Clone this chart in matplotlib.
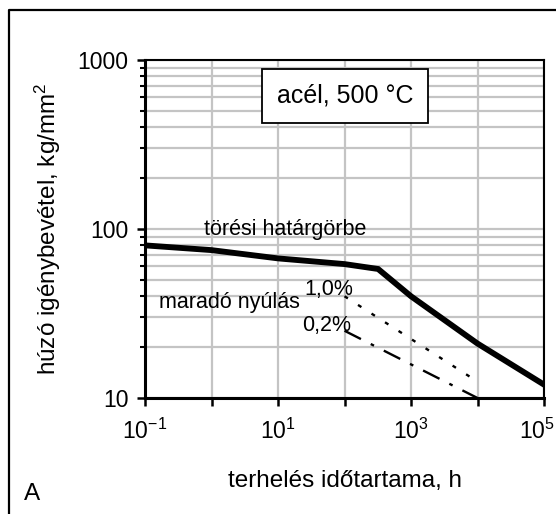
import matplotlib
matplotlib.use("Agg")
import matplotlib.pyplot as plt
from matplotlib.lines import Line2D
from matplotlib.ticker import FixedLocator, NullFormatter
from matplotlib.transforms import ScaledTranslation

plt.rcParams['font.family'] = ['Liberation Sans', 'DejaVu Sans']
plt.rcParams['mathtext.fontset'] = 'custom'
plt.rcParams['mathtext.rm'] = 'Liberation Sans'
plt.rcParams['mathtext.it'] = 'Liberation Sans'
plt.rcParams['mathtext.default'] = 'regular'

# rupture curve (törési határgörbe)
t_break = [0.1, 1, 10, 100, 320, 1000, 1e4, 1e5]
s_break = [80, 75, 67, 62, 58, 40, 21, 12]
# permanent elongation 1,0 %
t_10 = [100, 1e4]
s_10 = [40, 12.5]
# permanent elongation 0,2 %
t_02 = [100, 1e4]
s_02 = [25, 10]

x_ticks = [0.1, 1, 10, 100, 1000, 1e4, 1e5]
x_labels = ['$10^{-1}$', '', '$10^{1}$', '', '$10^{3}$', '', '$10^{5}$']
y_ticks = [10, 100, 1000]
y_labels = ['10', '100', '1000']

fig = plt.figure(figsize=(5.56, 5.14), dpi=100)
ax = fig.add_axes([145/556, 1-398/514, 399/556, 338/514])

ax.set_xscale('log')
ax.set_yscale('log')
ax.set_xlim(0.1, 1e5)
ax.set_ylim(10, 1000)

ax.plot(t_break, s_break, color='black', lw=4.2, solid_joinstyle='miter', zorder=5)
ax.plot(t_10, s_10, color='black', lw=1.7, dashes=(1.7, 5.1), zorder=5)
ax.plot(t_02, s_02, color='black', lw=1.7, dashes=(7.8, 4.65, 1.55, 4.65), zorder=5)

ax.xaxis.set_major_locator(FixedLocator(x_ticks))
ax.set_xticklabels(x_labels)
ax.xaxis.set_minor_locator(FixedLocator([]))
ax.yaxis.set_major_locator(FixedLocator(y_ticks))
ax.set_yticklabels(y_labels)
ax.yaxis.set_minor_locator(FixedLocator([m * 10**e for e in (1, 2) for m in range(2, 10)]))
ax.yaxis.set_minor_formatter(NullFormatter())

ax.grid(True, which='both', axis='y', color='#c4c4c4', lw=1.6)
ax.grid(True, which='major', axis='x', color='#c4c4c4', lw=1.6)
ax.set_axisbelow(True)

ax.tick_params(axis='both', which='major', direction='out', length=6, width=1.8,
               labelsize=16.5, colors='black')
ax.tick_params(axis='x', which='major', pad=9)
ax.tick_params(axis='y', which='major', pad=6)
ax.tick_params(axis='y', which='minor', direction='out', length=3.5, width=1.5)
for side in ('left', 'bottom'):
    ax.spines[side].set_linewidth(2.2)
for side in ('top', 'right'):
    ax.spines[side].set_linewidth(1.5)

# last x label pulled a little inside, as in the reference
last = ax.get_xticklabels()[-1]
last.set_transform(last.get_transform() + ScaledTranslation(-0.07, 0, fig.dpi_scale_trans))

ax.set_xlabel('terhelés időtartama, h', fontsize=17.5, labelpad=19)
ax.set_ylabel('húzó igénybevétel, kg/mm$^2$', fontsize=17.5, labelpad=10)

ax.text(12.7, 100, 'törési határgörbe', fontsize=15.5, ha='center', va='center')
ax.text(1.83, 36.5, 'maradó nyúlás', fontsize=15.5, ha='center', va='center')
ax.text(59, 43.6, '1,0%', fontsize=15.5, ha='center', va='center')
ax.text(54, 27, '0,2%', fontsize=15.5, ha='center', va='center')
ax.text(345/556, 1-96/514, 'acél, 500 °C', fontsize=18, ha='center', va='center',
        transform=fig.transFigure, zorder=6,
        bbox=dict(boxstyle='square,pad=0.6', fc='white', ec='black', lw=1.3))

fig.text(32/556, 1-494/514, 'A', fontsize=17.5, ha='center', va='center')

# outer frame (left and top edges)
fig.add_artist(Line2D([8.5/556, 8.5/556, 1.01], [-0.01, 1-10/514, 1-10/514],
                      transform=fig.transFigure, color='black', lw=1.6))

fig.savefig('out.png', dpi=100)
